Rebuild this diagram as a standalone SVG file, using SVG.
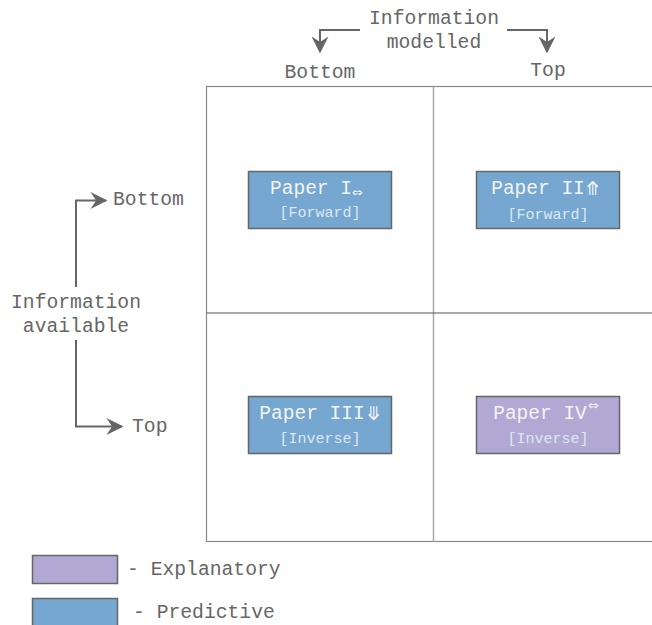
<svg xmlns="http://www.w3.org/2000/svg" width="652" height="625" viewBox="0 0 652 625">
<style>
.t{font-family:"Liberation Mono","DejaVu Sans Mono",monospace;font-size:19.7px;fill:#666}
.n{stroke:#666;stroke-width:1.5}
.blue{fill:#75a7d0}
.purple{fill:#b1a9d4}
.m{font-family:"Liberation Mono","DejaVu Sans Mono",monospace;font-size:19.5px;fill:#f4f4f4;text-anchor:middle}
.s{font-family:"Liberation Mono","DejaVu Sans Mono",monospace;font-size:15px;fill:#dde8f2;text-anchor:middle}
.sym{font-family:"DejaVu Sans",sans-serif;fill:#f4f4f4}
.c{fill:none;stroke:#666;stroke-width:2}
</style>
<defs>
<marker id="a2" viewBox="0 0 12 12" refX="11" refY="6" markerWidth="17" markerHeight="17" markerUnits="userSpaceOnUse" orient="auto">
<path d="M0,0 L12,6 L0,12 L4,6 Z" fill="#666"/>
</marker>
</defs>
<g id="grid">
<rect x="206.5" y="86.5" width="460" height="455" fill="none" stroke="#888" stroke-width="1.2"/>
<line x1="433.5" y1="86.5" x2="433.5" y2="541.5" stroke="#aaa" stroke-width="1.5"/>
<line x1="206.5" y1="313" x2="660" y2="313" stroke="#555" stroke-width="1.2"/>
</g>
<g id="connectors">
<path class="c" d="M360,30 H320 V52" marker-end="url(#a2)"/>
<path class="c" d="M507,30 H547 V52" marker-end="url(#a2)"/>
<path class="c" d="M76,287 V200.5 H106" marker-end="url(#a2)"/>
<path class="c" d="M76,340 V426.5 H122" marker-end="url(#a2)"/>
</g>
<g id="labels">
<text class="t" x="434" y="24" text-anchor="middle">Information</text>
<text class="t" x="434" y="48" text-anchor="middle">modelled</text>
<text class="t" x="320" y="78" text-anchor="middle">Bottom</text>
<text class="t" x="548" y="76" text-anchor="middle">Top</text>
<text class="t" x="113" y="205">Bottom</text>
<text class="t" x="76" y="308" text-anchor="middle">Information</text>
<text class="t" x="76" y="332" text-anchor="middle">available</text>
<text class="t" x="132" y="432">Top</text>
</g>
<g id="paper1">
<rect class="blue n" x="248.5" y="171.5" width="143" height="57"/>
<text class="m" x="311" y="194">Paper I</text>
<text class="sym" x="352" y="197" font-size="13">⇔</text>
<text class="s" x="320" y="217">[Forward]</text>
</g>
<g id="paper2">
<rect class="blue n" x="476.5" y="171.5" width="143" height="57"/>
<text class="m" x="538" y="194">Paper II</text>
<text class="sym" x="585" y="195" font-size="19">⤊</text>
<text class="s" x="548" y="219">[Forward]</text>
</g>
<g id="paper3">
<rect class="blue n" x="248.5" y="396.5" width="143" height="57"/>
<text class="m" x="312" y="419">Paper III</text>
<text class="sym" x="366" y="420" font-size="19">⤋</text>
<text class="s" x="320" y="443">[Inverse]</text>
</g>
<g id="paper4">
<rect class="purple n" x="476.5" y="396.5" width="143" height="57"/>
<text class="m" x="540" y="419">Paper IV</text>
<text class="sym" x="588" y="410" font-size="13">⇔</text>
<text class="s" x="548" y="443">[Inverse]</text>
</g>
<g id="legend">
<rect class="purple n" x="32.5" y="555.5" width="85" height="28"/>
<text class="t" x="127" y="575">- Explanatory</text>
<rect class="blue n" x="32.5" y="598.5" width="85" height="30"/>
<text class="t" x="133" y="618">- Predictive</text>
</g>
</svg>
